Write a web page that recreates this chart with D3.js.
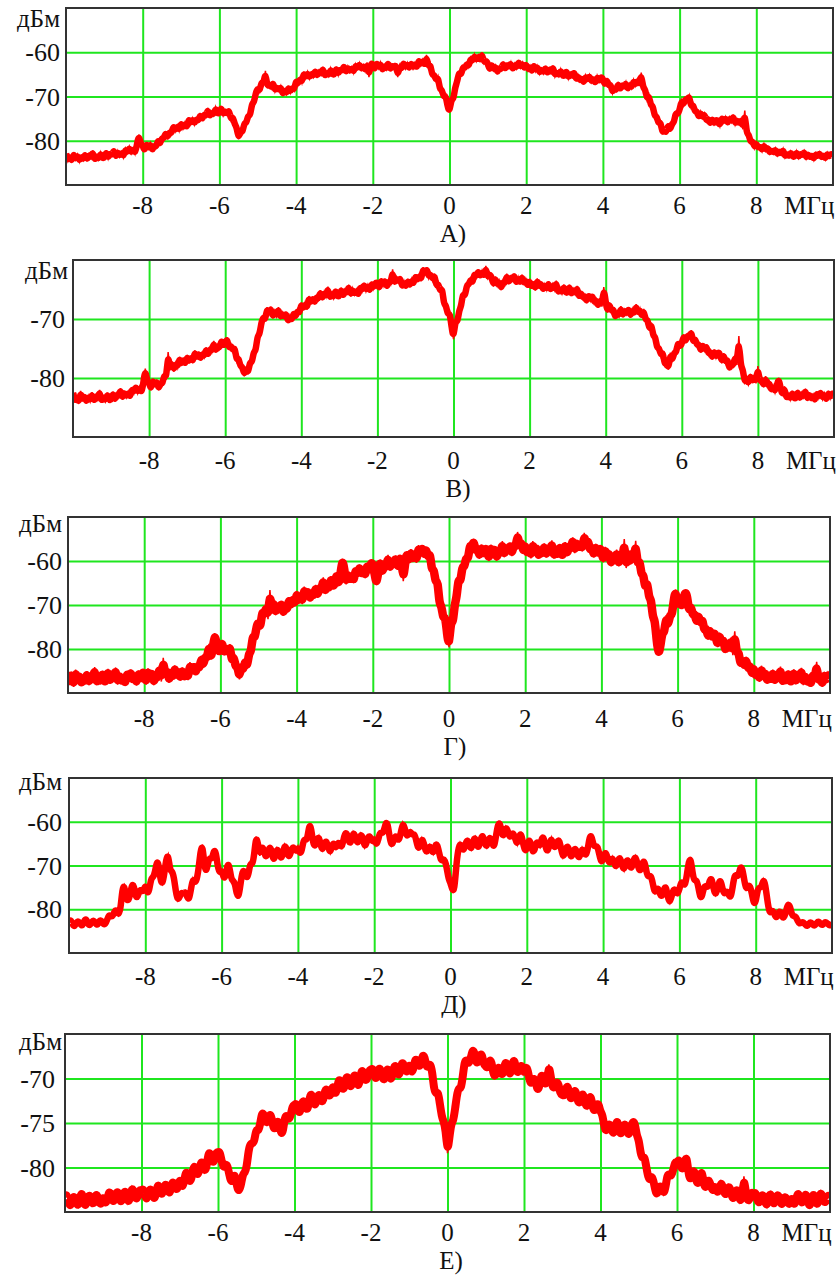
<!DOCTYPE html>
<html><head><meta charset="utf-8">
<script src="https://cdn.jsdelivr.net/npm/d3@7/dist/d3.min.js"></script>
<style>html,body{margin:0;padding:0;background:#fff;}svg{display:block;}</style>
</head><body>
<svg id="chart" width="840" height="1279"></svg>
<script>
// ---- data ----
const freqStart = -10, freqStep = 0.05; // spectrum sampling: -10.00 ... 10.00 MHz (401 points)
const xTicks = [-8, -6, -4, -2, 0, 2, 4, 6, 8];
const xUnit = "МГц";
const yUnit = "дБм";
const captions = ["А)", "В)", "Г)", "Д)", "Е)"];
const yTicksA = [-60, -70, -80];
const yTicksB = [-70, -80];
const yTicksG = [-60, -70, -80];
const yTicksD = [-60, -70, -80];
const yTicksE = [-70, -75, -80];
const yRangeA = [-90, -50], yRangeB = [-90, -60], yRangeG = [-90, -50], yRangeD = [-90, -50], yRangeE = [-85, -65];

const spectrumA = [
-82.9,-84.6,-83.4,-84.9,-82.6,-84.3,-83.1,-84.8,-83.4,-84.4,-82.7,-84.6,-83.0,-84.0,-82.2,-84.6,-83.3,-84.3,-82.6,-84.0,
-83.9,-82.2,-84.1,-82.7,-83.4,-81.8,-84.0,-82.3,-83.6,-82.5,-83.8,-81.7,-82.8,-81.3,-82.9,-81.7,-83.0,-80.9,-78.6,-80.8,
-81.0,-82.5,-80.4,-81.8,-80.5,-82.5,-80.9,-81.6,-79.5,-81.1,-79.2,-79.6,-77.9,-79.6,-77.8,-78.6,-76.4,-77.9,-76.5,-77.8,
-75.7,-77.3,-75.9,-77.3,-74.8,-76.3,-74.9,-76.4,-74.9,-75.7,-73.8,-75.5,-73.8,-74.6,-72.6,-74.8,-73.4,-74.3,-72.4,-73.9,
-73.8,-72.2,-74.3,-73.1,-74.1,-72.8,-75.4,-74.4,-76.4,-76.8,-79.7,-77.5,-78.4,-75.8,-76.2,-74.1,-74.6,-71.4,-71.5,-69.1,
-68.0,-69.0,-66.4,-67.4,-64.2,-68.1,-67.0,-68.2,-66.5,-68.9,-67.7,-68.7,-67.6,-69.8,-68.4,-69.5,-67.6,-69.2,-67.8,-68.7,
-66.1,-67.4,-65.8,-67.0,-64.4,-65.9,-64.4,-66.0,-64.6,-65.6,-63.8,-65.7,-64.1,-65.1,-63.3,-65.7,-64.4,-65.4,-63.6,-65.1,
-65.1,-63.3,-65.2,-63.7,-64.4,-62.7,-64.9,-63.2,-64.5,-63.4,-64.7,-62.7,-63.8,-62.4,-64.0,-62.9,-64.3,-62.3,-65.6,-62.4,
-62.6,-64.2,-62.1,-63.6,-62.3,-64.4,-62.9,-63.9,-62.0,-64.2,-62.8,-63.7,-62.5,-65.6,-62.9,-64.0,-62.0,-63.7,-62.4,-64.0,
-62.1,-63.7,-62.4,-63.8,-61.4,-63.0,-61.7,-63.3,-60.6,-63.5,-62.5,-65.4,-64.9,-66.5,-65.4,-68.6,-68.3,-70.3,-69.6,-72.3,
-73.6,-70.4,-70.9,-67.7,-66.8,-64.2,-65.5,-63.1,-63.8,-62.4,-63.4,-61.2,-62.2,-60.5,-62.0,-60.7,-62.1,-60.0,-62.5,-61.8,
-62.5,-64.3,-62.4,-64.1,-63.0,-64.9,-63.3,-64.1,-62.1,-64.1,-62.6,-63.5,-62.2,-64.2,-62.6,-63.7,-61.8,-63.5,-62.3,-64.0,
-62.3,-64.2,-63.1,-64.7,-62.5,-64.3,-63.1,-64.9,-63.7,-64.8,-63.1,-65.1,-63.6,-64.7,-63.0,-65.5,-64.3,-65.4,-63.8,-65.4,
-65.4,-63.9,-66.0,-64.7,-65.6,-64.1,-66.5,-65.1,-66.6,-65.7,-67.2,-65.2,-66.4,-65.1,-66.8,-65.8,-67.3,-65.3,-66.7,-65.6,
-65.8,-67.7,-65.9,-67.8,-67.0,-69.3,-68.0,-68.8,-66.7,-68.7,-67.2,-68.0,-66.7,-68.7,-67.1,-68.2,-66.2,-67.6,-66.1,-67.6,
-64.6,-68.3,-68.1,-70.8,-69.6,-72.2,-71.9,-74.6,-74.3,-76.3,-75.5,-78.3,-77.6,-78.3,-76.1,-77.9,-76.0,-76.1,-73.5,-74.1,
-73.1,-70.8,-72.1,-70.4,-70.8,-69.7,-72.5,-71.6,-73.6,-73.1,-75.0,-73.4,-74.9,-73.8,-75.7,-74.8,-76.5,-74.7,-76.3,-75.2,
-75.5,-76.8,-74.5,-75.9,-74.6,-76.4,-74.7,-75.8,-74.1,-76.4,-75.2,-76.2,-75.1,-77.4,-73.2,-78.7,-78.3,-80.5,-79.8,-81.7,
-80.3,-81.8,-81.1,-82.4,-80.7,-82.3,-81.4,-82.9,-82.0,-82.9,-81.7,-83.3,-82.2,-83.1,-81.8,-83.8,-82.8,-83.7,-82.4,-83.6,
-83.7,-82.3,-83.9,-82.8,-83.4,-82.3,-84.1,-82.8,-83.9,-83.1,-84.4,-82.8,-83.7,-82.6,-84.0,-83.1,-84.3,-82.7,-83.8,-82.8,
-83.5];

const spectrumB = [
-82.5,-84.1,-83.0,-84.4,-82.2,-83.9,-82.8,-84.3,-83.0,-84.0,-82.4,-84.2,-82.9,-83.7,-82.0,-84.2,-83.1,-84.0,-82.5,-83.8,
-83.8,-82.3,-84.0,-82.6,-83.3,-81.7,-83.7,-82.2,-83.3,-82.3,-83.5,-81.6,-82.6,-81.2,-82.6,-81.5,-82.7,-80.8,-78.4,-80.7,
-80.7,-82.1,-80.1,-81.5,-80.3,-82.1,-80.6,-81.2,-79.2,-80.3,-75.6,-78.7,-77.2,-78.9,-77.4,-78.3,-76.4,-77.9,-76.6,-77.9,
-76.1,-77.5,-76.2,-77.5,-75.3,-76.8,-75.6,-77.0,-75.7,-76.5,-74.8,-76.4,-74.9,-75.6,-73.7,-75.7,-74.4,-75.1,-73.4,-74.5,
-74.3,-73.1,-75.2,-74.3,-75.5,-74.6,-77.2,-76.4,-78.2,-77.9,-79.7,-78.1,-79.4,-77.1,-77.6,-75.4,-75.6,-72.7,-72.8,-70.6,
-69.5,-70.4,-68.0,-69.2,-67.9,-69.9,-68.6,-69.6,-68.0,-70.0,-68.9,-69.8,-68.8,-70.7,-69.4,-70.4,-68.7,-69.9,-68.4,-69.3,
-67.2,-68.5,-67.2,-68.4,-66.1,-67.5,-66.2,-67.5,-66.1,-66.8,-65.1,-66.8,-65.4,-66.3,-64.5,-66.7,-65.6,-66.5,-64.9,-66.2,
-66.2,-64.7,-66.4,-65.0,-65.7,-64.2,-66.2,-64.8,-65.9,-65.0,-66.2,-64.3,-65.3,-63.9,-65.3,-64.2,-65.5,-63.7,-64.9,-63.8,
-63.8,-65.1,-63.1,-64.4,-63.2,-64.9,-63.4,-64.1,-61.6,-64.2,-62.9,-63.8,-62.8,-64.8,-63.6,-64.8,-63.2,-64.6,-63.2,-64.3,
-62.4,-63.7,-62.4,-63.6,-61.2,-62.6,-61.2,-63.1,-62.2,-63.5,-62.3,-64.6,-63.8,-65.5,-64.5,-67.7,-67.5,-69.4,-68.8,-71.4,
-73.4,-70.1,-70.8,-68.4,-68.0,-65.4,-66.4,-64.1,-64.3,-63.1,-64.1,-62.1,-63.0,-61.6,-63.0,-61.8,-63.0,-61.0,-63.1,-62.4,
-62.8,-64.5,-62.8,-64.4,-63.5,-65.1,-63.5,-64.2,-62.3,-64.1,-62.8,-63.5,-62.3,-64.2,-62.9,-64.1,-62.5,-64.2,-63.2,-64.7,
-63.2,-64.8,-63.7,-65.2,-63.1,-64.8,-63.7,-65.3,-64.1,-65.1,-63.6,-65.4,-64.1,-65.1,-63.5,-65.8,-64.7,-65.7,-64.2,-65.6,
-65.6,-64.2,-66.1,-64.9,-65.8,-64.4,-66.6,-65.3,-66.6,-65.9,-67.3,-65.7,-66.9,-65.8,-67.4,-66.6,-68.1,-66.5,-67.9,-64.6,
-67.2,-68.9,-67.2,-68.9,-68.0,-70.0,-68.8,-69.6,-67.8,-69.7,-68.4,-69.2,-68.0,-69.8,-68.3,-69.3,-67.5,-69.2,-68.2,-69.8,
-68.3,-70.4,-69.9,-72.0,-70.6,-73.1,-72.8,-75.1,-74.7,-76.3,-75.4,-77.9,-77.3,-78.6,-75.7,-77.3,-75.5,-75.9,-73.8,-74.7,
-74.3,-72.6,-74.1,-72.6,-73.2,-71.9,-74.2,-73.1,-74.6,-74.1,-75.7,-74.1,-75.4,-74.4,-76.1,-75.3,-76.9,-75.2,-76.6,-75.6,
-75.8,-77.5,-75.8,-77.5,-76.6,-78.7,-77.5,-78.1,-76.1,-77.8,-72.9,-78.3,-78.2,-80.8,-80.2,-81.1,-79.3,-80.8,-79.6,-80.9,
-78.0,-80.9,-80.0,-81.6,-79.7,-81.5,-80.6,-82.3,-81.3,-82.5,-81.2,-80.0,-81.9,-83.0,-81.4,-83.7,-82.7,-83.7,-82.2,-83.5,
-83.5,-82.0,-83.8,-82.5,-83.3,-81.8,-83.9,-82.5,-83.7,-82.8,-84.1,-82.3,-83.4,-82.1,-83.6,-82.6,-84.0,-82.2,-83.5,-82.4,
-83.1];

const spectrumG = [
-85.2,-88.1,-86.0,-88.6,-84.7,-87.6,-85.5,-88.4,-86.2,-87.9,-85.0,-88.2,-85.6,-87.3,-84.1,-88.2,-86.2,-87.9,-85.0,-87.5,
-87.4,-84.5,-87.9,-85.5,-86.9,-84.2,-88.1,-85.4,-87.8,-86.1,-88.4,-85.0,-87.1,-84.7,-87.6,-85.7,-88.3,-84.9,-87.3,-85.2,
-85.5,-88.1,-84.4,-87.0,-84.8,-88.2,-85.6,-87.1,-83.8,-87.4,-82.0,-86.4,-84.3,-87.7,-85.0,-86.9,-83.7,-86.6,-84.5,-87.2,
-84.2,-87.0,-84.7,-87.1,-83.0,-85.7,-83.3,-85.9,-83.4,-84.8,-81.5,-84.3,-81.3,-82.5,-78.8,-82.4,-79.9,-76.4,-79.0,-80.5,
-80.6,-77.9,-81.4,-79.4,-81.1,-78.9,-83.2,-81.3,-84.4,-83.7,-86.9,-83.3,-85.2,-82.2,-84.5,-80.6,-81.1,-76.6,-77.9,-74.7,
-73.8,-75.5,-70.9,-72.8,-69.9,-73.2,-66.6,-72.0,-68.7,-72.3,-69.8,-71.2,-69.1,-72.5,-69.8,-71.6,-68.2,-70.7,-68.1,-70.3,
-66.8,-69.6,-67.3,-69.8,-65.8,-68.6,-66.3,-69.1,-66.8,-68.4,-65.4,-68.4,-65.6,-67.1,-63.7,-67.5,-65.2,-66.7,-63.5,-65.8,
-65.5,-62.5,-65.7,-63.2,-59.5,-61.6,-65.3,-62.5,-64.7,-62.9,-65.0,-61.5,-63.4,-60.8,-63.5,-61.5,-63.9,-60.4,-62.6,-60.4,
-60.5,-63.1,-65.5,-61.9,-59.7,-63.1,-60.5,-61.9,-58.6,-62.2,-59.7,-61.0,-58.8,-62.0,-59.2,-59.6,-64.6,-60.2,-57.9,-60.5,
-57.3,-60.1,-57.9,-60.4,-56.4,-58.9,-56.4,-59.2,-56.8,-59.6,-57.8,-62.5,-61.5,-65.2,-64.1,-70.1,-69.9,-73.4,-72.3,-76.7,
-79.6,-73.4,-74.5,-69.6,-68.5,-63.6,-65.2,-60.9,-61.7,-58.9,-60.0,-55.9,-57.2,-55.0,-58.2,-56.6,-59.5,-56.3,-58.9,-57.0,
-57.5,-60.0,-56.3,-58.8,-56.6,-59.9,-57.3,-58.8,-55.5,-59.1,-56.7,-58.1,-55.9,-58.9,-55.9,-57.4,-53.4,-57.1,-55.3,-58.4,
-55.8,-58.8,-56.7,-59.4,-55.5,-58.5,-56.4,-59.4,-57.2,-58.9,-56.0,-59.2,-56.7,-58.4,-55.3,-59.4,-57.4,-59.1,-56.2,-58.7,
-58.7,-55.7,-58.9,-56.3,-57.5,-54.6,-58.2,-55.3,-57.4,-55.6,-57.8,-53.6,-56.9,-54.8,-58.0,-56.4,-59.2,-56.1,-58.8,-57.0,
-57.5,-60.3,-56.8,-59.6,-57.6,-61.2,-58.8,-60.5,-57.4,-61.2,-58.9,-60.4,-55.0,-61.6,-58.9,-60.7,-57.4,-60.2,-55.4,-61.5,
-59.3,-63.5,-62.6,-66.7,-64.2,-68.7,-68.2,-73.2,-73.0,-78.2,-81.5,-79.3,-76.0,-76.6,-72.3,-75.2,-71.9,-72.6,-68.7,-66.5,
-70.6,-67.6,-70.9,-68.6,-67.0,-67.7,-71.9,-69.8,-72.7,-71.6,-74.5,-71.8,-74.6,-72.8,-76.2,-74.8,-77.9,-75.0,-77.9,-76.2,
-76.8,-79.6,-76.3,-79.1,-77.3,-80.9,-78.7,-80.4,-77.4,-81.4,-76.0,-81.5,-80.1,-84.0,-82.0,-84.4,-81.8,-85.0,-83.3,-86.3,
-83.7,-86.7,-84.8,-87.5,-83.8,-86.8,-84.8,-87.8,-85.7,-87.5,-84.7,-87.9,-85.4,-87.1,-84.0,-88.1,-86.1,-87.8,-84.9,-87.4,
-87.5,-84.6,-88.0,-85.6,-87.0,-84.3,-88.2,-85.5,-88.0,-86.3,-88.6,-85.2,-87.4,-82.9,-87.9,-86.0,-88.6,-85.2,-87.6,-85.5,
-86.8];

const spectrumD = [
-82.7,-82.4,-83.6,-84.0,-82.9,-82.7,-83.4,-83.9,-82.6,-82.1,-83.5,-83.7,-82.8,-82.5,-83.3,-83.7,-82.5,-82.6,-83.4,-83.5,
-82.4,-81.2,-81.6,-81.6,-80.2,-80.3,-81.4,-80.1,-75.2,-74.4,-77.6,-78.2,-76.8,-74.3,-74.4,-77.4,-77.2,-75.6,-75.6,-76.1,
-74.2,-76.4,-76.0,-72.9,-72.8,-71.8,-69.0,-69.5,-73.6,-74.3,-71.8,-68.4,-67.4,-71.3,-71.2,-72.6,-76.0,-78.0,-77.2,-76.0,
-76.6,-75.8,-77.4,-77.8,-75.2,-72.9,-74.0,-73.3,-70.6,-66.5,-65.2,-70.2,-71.6,-69.0,-68.2,-68.6,-66.4,-66.8,-70.4,-71.8,
-70.9,-72.9,-72.8,-69.7,-69.8,-73.1,-73.5,-74.0,-76.8,-77.2,-73.9,-71.1,-71.2,-72.9,-72.4,-69.3,-70.0,-68.0,-63.4,-64.6,
-67.8,-65.6,-66.2,-68.2,-67.6,-65.8,-66.0,-68.8,-68.2,-66.0,-66.9,-68.5,-67.8,-65.2,-66.1,-68.2,-67.5,-65.8,-65.9,-67.0,
-65.6,-67.4,-66.8,-64.0,-64.2,-63.9,-60.4,-61.5,-65.1,-65.7,-64.2,-63.2,-65.6,-66.6,-64.8,-64.3,-66.0,-67.2,-65.3,-64.7,
-66.4,-64.5,-65.2,-66.0,-63.8,-62.3,-63.0,-65.0,-64.6,-62.3,-63.2,-64.9,-64.5,-62.7,-63.6,-65.9,-64.8,-63.2,-63.4,-64.8,
-63.6,-65.4,-64.4,-62.3,-62.6,-62.4,-60.2,-60.2,-63.4,-65.5,-64.6,-63.1,-63.8,-64.4,-62.4,-60.2,-61.4,-63.4,-62.9,-62.0,
-63.2,-62.6,-64.1,-66.3,-65.6,-63.7,-64.8,-66.9,-66.8,-65.3,-66.4,-67.4,-65.2,-65.1,-67.0,-69.0,-68.6,-68.7,-70.4,-73.2,
-73.9,-75.7,-75.8,-70.1,-66.4,-64.8,-66.0,-66.7,-64.8,-64.0,-65.6,-66.4,-64.2,-63.4,-65.8,-65.8,-63.6,-63.0,-64.9,-65.9,
-64.0,-63.4,-65.4,-65.7,-62.8,-60.4,-60.2,-63.1,-63.2,-61.1,-62.0,-63.7,-62.9,-62.5,-64.0,-65.3,-63.2,-62.6,-64.8,-66.7,
-66.4,-64.0,-64.6,-66.9,-66.8,-64.5,-64.9,-65.8,-63.4,-63.7,-66.2,-66.9,-65.0,-63.6,-65.6,-66.0,-64.4,-64.1,-66.2,-68.2,
-67.1,-65.4,-66.0,-68.2,-67.6,-66.0,-66.4,-68.4,-67.8,-65.9,-67.1,-67.8,-66.2,-63.2,-63.2,-65.6,-65.6,-65.5,-67.4,-69.4,
-68.6,-66.8,-67.6,-69.5,-69.2,-68.0,-69.8,-70.5,-68.4,-68.2,-70.0,-71.2,-69.2,-68.5,-70.2,-70.8,-68.8,-67.8,-69.6,-71.3,
-70.9,-68.8,-69.4,-72.2,-72.6,-72.2,-73.9,-76.3,-75.6,-75.0,-76.9,-77.1,-75.2,-74.7,-77.4,-78.6,-76.9,-75.2,-75.8,-76.7,
-75.4,-73.6,-74.2,-74.6,-72.0,-68.8,-68.4,-72.2,-73.6,-73.2,-75.0,-77.6,-76.9,-74.6,-74.8,-75.0,-73.2,-72.9,-75.6,-76.8,
-75.4,-73.3,-73.8,-76.3,-76.4,-75.7,-76.9,-77.4,-74.6,-72.0,-72.4,-72.4,-70.2,-70.6,-73.4,-75.5,-74.7,-74.5,-76.4,-78.8,
-78.5,-75.4,-75.0,-75.1,-73.1,-74.2,-77.6,-80.5,-80.8,-80.1,-81.4,-82.1,-80.6,-80.4,-82.0,-81.9,-80.2,-78.7,-79.3,-81.4,
-81.6,-81.6,-82.7,-83.4,-83.0,-82.9,-83.5,-84.0,-83.2,-82.9,-83.6,-83.8,-83.1,-82.7,-83.4,-83.7,-83.0,-82.9,-83.5,-83.8,
-83.0];

const spectrumE = [
-83.2,-83.0,-84.1,-84.4,-83.4,-83.2,-84.0,-84.4,-83.1,-82.8,-84.2,-84.3,-83.3,-83.0,-83.9,-84.2,-83.0,-83.1,-84.0,-84.2,
-83.1,-84.1,-83.8,-82.6,-83.0,-83.9,-83.7,-82.6,-82.9,-84.0,-83.6,-82.6,-82.8,-84.0,-83.5,-82.2,-82.7,-83.6,-83.4,-82.4,
-82.6,-82.3,-83.4,-83.6,-82.5,-82.4,-83.3,-83.6,-82.3,-81.8,-83.0,-83.0,-82.0,-81.8,-82.8,-82.9,-81.6,-81.7,-82.5,-82.4,
-81.1,-82.2,-82.0,-80.5,-80.6,-81.6,-81.5,-80.0,-79.8,-80.9,-80.6,-79.4,-79.4,-80.5,-80.0,-78.3,-78.4,-79.4,-79.4,-78.3,
-78.3,-78.2,-79.4,-80.1,-79.6,-79.8,-80.9,-81.8,-81.0,-80.8,-82.3,-82.7,-82.0,-80.7,-80.6,-80.0,-78.0,-77.3,-77.3,-77.1,
-75.6,-76.0,-75.2,-73.8,-74.0,-75.0,-74.9,-73.9,-74.3,-75.7,-75.6,-74.7,-75.0,-76.3,-76.0,-74.2,-74.2,-74.7,-74.2,-73.0,
-73.0,-72.7,-73.8,-73.8,-72.6,-72.5,-73.4,-73.5,-72.0,-71.6,-72.9,-73.0,-72.0,-71.7,-72.6,-72.6,-71.2,-71.2,-72.0,-71.9,
-70.6,-71.7,-71.6,-70.1,-70.2,-71.2,-71.2,-69.8,-69.8,-71.0,-70.8,-69.6,-69.6,-70.9,-70.6,-69.0,-69.2,-70.2,-70.2,-69.0,
-69.0,-68.8,-70.0,-70.0,-68.8,-68.9,-69.9,-70.3,-69.1,-68.8,-70.2,-69.9,-68.6,-68.5,-69.6,-69.6,-68.2,-68.3,-69.2,-69.3,
-68.2,-69.3,-69.2,-67.8,-67.9,-68.7,-68.5,-67.3,-67.5,-68.8,-68.6,-68.3,-69.2,-71.3,-71.8,-71.4,-72.8,-74.3,-74.8,-75.7,
-78.4,-76.6,-75.0,-74.8,-73.4,-71.7,-71.0,-71.2,-69.8,-68.0,-67.9,-68.4,-67.9,-66.8,-66.9,-68.3,-68.2,-67.3,-67.2,-68.5,
-68.6,-68.9,-67.9,-68.0,-69.6,-69.8,-69.0,-68.6,-69.5,-69.6,-68.2,-68.2,-69.3,-69.6,-68.2,-67.8,-69.2,-69.4,-68.6,-68.5,
-69.6,-68.6,-69.0,-70.4,-70.6,-69.9,-70.2,-71.4,-71.0,-69.5,-69.8,-70.7,-70.5,-68.4,-69.8,-71.1,-71.0,-70.4,-70.5,-71.8,
-71.8,-72.0,-71.0,-70.8,-72.2,-72.3,-71.4,-71.3,-72.5,-72.9,-71.8,-71.7,-72.8,-73.3,-72.2,-71.9,-73.4,-73.7,-72.9,-72.8,
-73.8,-74.0,-75.5,-76.0,-75.2,-75.1,-75.9,-76.3,-75.0,-74.7,-76.2,-76.2,-75.2,-75.1,-76.1,-76.4,-75.3,-74.8,-75.0,-76.5,
-76.8,-78.5,-79.0,-78.7,-80.0,-81.2,-81.4,-80.9,-81.8,-83.0,-82.9,-82.0,-82.2,-83.0,-82.3,-80.7,-80.8,-81.0,-80.3,-79.3,
-79.5,-79.0,-79.9,-80.3,-79.4,-78.6,-80.7,-81.5,-80.6,-80.2,-81.5,-81.9,-81.2,-80.2,-81.9,-82.4,-81.4,-81.5,-82.3,-82.7,
-81.9,-82.9,-82.6,-81.6,-82.2,-83.1,-82.9,-82.0,-82.5,-83.6,-83.3,-82.4,-82.7,-83.9,-83.4,-81.0,-82.9,-83.8,-83.6,-82.7,
-83.0,-82.7,-83.7,-84.1,-83.2,-83.0,-83.8,-84.4,-83.3,-82.8,-84.0,-84.1,-83.2,-83.0,-83.9,-84.3,-83.3,-83.3,-84.0,-84.2,
-83.2,-84.2,-84.0,-82.8,-83.1,-84.0,-83.9,-82.9,-83.2,-84.4,-84.1,-83.0,-83.1,-84.3,-83.9,-82.7,-83.2,-84.0,-83.8,-83.0,
-83.4];

// ---- layout ----
const panels = [
  {data: spectrumA, yDom: yRangeA, yTicks: yTicksA, body: 6.5, l: 66, r: 833, t: 8,    b: 185,  tickBase: 214,  yLblR: 60, unitR: 60, unitBase: 27,   capX: 453, capBase: 242},
  {data: spectrumB, yDom: yRangeB, yTicks: yTicksB, body: 6.5, l: 73, r: 834, t: 260,  b: 437,  tickBase: 469,  yLblR: 65, unitR: 68, unitBase: 279,  capX: 458, capBase: 497},
  {data: spectrumG, yDom: yRangeG, yTicks: yTicksG, body: 8.5, l: 68, r: 830, t: 517,  b: 693,  tickBase: 727,  yLblR: 62, unitR: 62, unitBase: 532,  capX: 455, capBase: 755},
  {data: spectrumD, yDom: yRangeD, yTicks: yTicksD, body: 6.5, l: 69, r: 832, t: 778,  b: 953,  tickBase: 985,  yLblR: 62, unitR: 62, unitBase: 790,  capX: 454, capBase: 1013},
  {data: spectrumE, yDom: yRangeE, yTicks: yTicksE, body: 8,   l: 65, r: 830, t: 1034, b: 1212, tickBase: 1241, yLblR: 55, unitR: 62, unitBase: 1050, capX: 451, capBase: 1269}
];

const FONT = "'Liberation Serif','Times New Roman','DejaVu Serif',serif";
const FS = 25;
const svg = d3.select("#chart");

panels.forEach((p, pi) => {
  const x = d3.scaleLinear().domain([-10, 10]).range([p.l, p.r]);
  const y = d3.scaleLinear().domain(p.yDom).range([p.b, p.t]);
  const g = svg.append("g");

  // grid
  g.append("g").call(d3.axisBottom(x).tickValues(xTicks).tickSize(-(p.b - p.t)).tickFormat(""))
    .attr("transform", `translate(0,${p.b})`)
    .call(s => { s.select(".domain").remove(); s.selectAll("line").attr("stroke", "#1fe61f").attr("stroke-width", 2); });
  g.append("g").call(d3.axisLeft(y).tickValues(p.yTicks).tickSize(-(p.r - p.l)).tickFormat(""))
    .attr("transform", `translate(${p.l},0)`)
    .call(s => { s.select(".domain").remove(); s.selectAll("line").attr("stroke", "#1fe61f").attr("stroke-width", 2); });

  // trace
  const pts = p.data.map((v, i) => [freqStart + i * freqStep, v]);
  const clipId = "clip" + pi;
  svg.append("clipPath").attr("id", clipId).append("rect")
    .attr("x", p.l).attr("y", p.t).attr("width", p.r - p.l).attr("height", p.b - p.t);
  const tr = g.append("g").attr("clip-path", `url(#${clipId})`);
  tr.append("path").datum(pts)
    .attr("d", d3.line().x(d => x(d[0])).y(d => y(d[1])).curve(d3.curveBasis))
    .attr("fill", "none").attr("stroke", "#ff0000").attr("stroke-width", p.body).attr("stroke-linejoin", "round");
  tr.append("path").datum(pts)
    .attr("d", d3.line().x(d => x(d[0])).y(d => y(d[1])))
    .attr("fill", "none").attr("stroke", "#ff0000").attr("stroke-width", 1.5);

  // frame
  g.append("rect").attr("x", p.l).attr("y", p.t).attr("width", p.r - p.l).attr("height", p.b - p.t)
    .attr("fill", "none").attr("stroke", "#333").attr("stroke-width", 2);

  // x tick labels
  g.selectAll(".xl").data(xTicks).join("text")
    .attr("x", d => x(d)).attr("y", p.tickBase).attr("text-anchor", "middle")
    .attr("font-family", FONT).attr("font-size", FS).attr("fill", "#111").text(d => d);
  g.append("text").attr("x", x(8) + 28).attr("y", p.tickBase)
    .attr("font-family", FONT).attr("font-size", FS).attr("fill", "#111").text(xUnit);

  // y tick labels
  g.selectAll(".yl").data(p.yTicks).join("text")
    .attr("x", p.yLblR).attr("y", d => y(d) + 9).attr("text-anchor", "end")
    .attr("font-family", FONT).attr("font-size", FS + 1).attr("fill", "#111").text(d => d);
  g.append("text").attr("x", p.unitR).attr("y", p.unitBase).attr("text-anchor", "end")
    .attr("font-family", FONT).attr("font-size", FS).attr("fill", "#111").text(yUnit);

  // caption
  g.append("text").attr("x", p.capX).attr("y", p.capBase).attr("text-anchor", "middle")
    .attr("font-family", FONT).attr("font-size", FS).attr("fill", "#111").text(captions[pi]);
});
</script>
</body></html>
